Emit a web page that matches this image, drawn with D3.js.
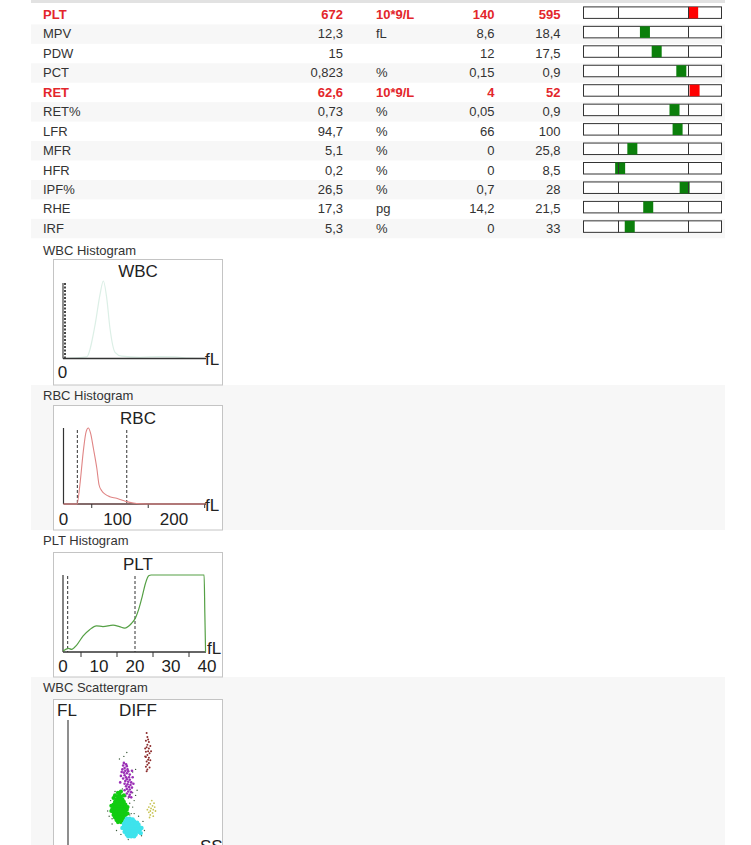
<!DOCTYPE html>
<html>
<head>
<meta charset="utf-8">
<script src="https://cdn.jsdelivr.net/npm/d3@7"></script>
<style>
html,body{margin:0;padding:0;background:#fff;overflow:hidden;}
svg{display:block;font-family:"Liberation Sans",Arial,sans-serif;}
</style>
</head>
<body>
<script>
// ---------- table data ----------
const params = ["PLT","MPV","PDW","PCT","RET","RET%","LFR","MFR","HFR","IPF%","RHE","IRF"];
const values = [672,12.3,15,0.823,62.6,0.73,94.7,5.1,0.2,26.5,17.3,5.3];
const units  = ["10*9/L","fL","","%","10*9/L","%","%","%","%","%","pg","%"];
const lows   = [140,8.6,12,0.15,4,0.05,66,0,0,0.7,14.2,0];
const highs  = [595,18.4,17.5,0.9,52,0.9,100,25.8,8.5,28,21.5,33];

// ---------- histogram data ----------
const wbcChannel = [0,16,22,25.5,27.9,30.3,32.6,36.2,40.9,54,68,78.7,89,100];
const wbcCount   = [0,2,43,82,100,78,39,8,3,1.5,2.5,2,0.5,0];

const rbcFl    = [0,24,29,35,40,44,48,53,59,63,68,73.5,82,94,103,112,123.5,135,160,200,250];
const rbcCount = [0,0,25,69,95,100,93,73,47,25,17,13,9.6,7.5,5.3,3.1,1.3,0.4,0,0,0];
const rbcThresholds = [24.5,112];
const rbcTickLabels = [0,100,200];
const rbcMinorTicks = [50,150,250];

const pltFl    = [0,1.5,2.4,3.8,5.6,7.4,9.3,11.1,13.9,15.7,17.1,19,20.1,21,22,22.9,23.8,24.5,39.2,39.4,39.6];
const pltCount = [1.3,4.7,3.4,9,21,29,34,33,35,33,31,37,44,55,72,89,99,100,100,50,0];
const pltThresholds = [1.3,20];
const pltTickLabels = [0,10,20,30,40];
const pltMinorTicks = [5,15,25,35];

// ---------- scattergram data (SS, FL) ----------
const neutro = [[35,43],[34,41],[36,41],[33,39],[35,39],[37,39],[32,37],[34,37],[36,37],[38,37],[31,35],[33,35],[35,35],[37,35],[39,35],
 [31,33],[33,33],[35,33],[37,33],[39,33],[30,31],[32,31],[34,31],[36,31],[38,31],[40,31],[31,29],[33,29],[35,29],[37,29],[39,29],
 [31,27],[33,27],[35,27],[37,27],[39,27],[32,25],[34,25],[36,25],[38,25],[33,23],[35,23],[37,23],[34,21.5],[36,21.5],
 [29.5,34],[40.5,28],[31,40],[38,42],[36,45],[29.5,30],[40.5,33],[34,44],[32,42]];
const lymph = [[40,24],[42,24],[44,23.5],[39,22],[41,22],[43,22],[45,22],[47,21],[38,20],[40,20],[42,20],[44,20],[46,20],[48,19.5],
 [38,18],[40,18],[42,18],[44,18],[46,18],[48,18],[39,16],[41,16],[43,16],[45,16],[47,16],[49,16],[38.5,14],[40,14],[42,14],[44,14],
 [46,14],[48,14],[40,12],[42,12],[44,12],[46,12],[41,10.5],[43,10.5],[45,10.5],[50,17],[37,17],[49.5,13]];
const mono = [[38,67],[39.5,66],[37.5,65],[40,64.5],[38.5,63],[40.5,62],[37,62],[39,61],[41,60.5],[38,59.5],[40,59],[42,58],[38.5,57.5],
 [39.5,56],[41.5,56],[37.5,55],[40,54.5],[42,54],[39,53],[41,52.5],[43,52],[38.5,51],[40.5,50.5],[42.5,50],[39.5,49],[41.5,48.5],
 [43.5,48],[40,47],[42,46.5],[38.5,46],[41,45],[43,44.5],[40,43.5],[42,42.5],[39,41.5],[41.5,41],[43,40.5],[36.5,60],[44,56],[35.5,52],
 [44.5,51],[36,57],[43.5,61]];
const baso = [[53.5,90],[54,87],[53,84],[55,83],[54,81],[53.5,79],[55,78],[54.5,76],[53,75.5],[55.5,74.5],[54,73],[53,71.5],[55,71],
 [54.5,69.5],[53.5,68],[55,67],[54,65.5],[53,64],[55.5,63.5],[54,62],[53.5,60.5],[56,69],[52.5,78],[56,80],[54.5,85],[52.5,72],[56.5,76]];
const eos = [[57,38],[58.5,36],[56,35.5],[57.5,34],[55,33],[59,33],[56.5,32],[58,31],[54,31],[56,30],[59.5,30],[55,29],[57.5,28.5],
 [56,27],[58,26],[55.5,25]];
const debris = [[27,30],[29,38],[42,36],[44,33],[45,28],[41,40],[46,42],[47,46],[44,60],[46,62],[38,72],[40,75],[35,70],[30,20],
 [33,15],[36,12],[50,11],[52,15],[51,22],[48,26],[43,28],[45,38],[37,47],[35,25],[32,45],[42,27],[30,24],[41,8],[28,26],[44,44]];

// ---------- drawing ----------
const W = 751, H = 845;
const svg = d3.select("body").append("svg").attr("width", W).attr("height", H);
const textCol = "#333", red = "#e3262b", gray = "#f7f7f7";

svg.append("rect").attr("x",31).attr("y",0).attr("width",694).attr("height",3).attr("fill","#e2e2e2");

// table
const rowY = d3.scaleLinear().domain([0,1]).range([4.9, 24.35]);
const rowH = 19.45;
const fmt = v => String(v).replace(".", ",");

params.forEach((p, i) => {
  const top = rowY(i);
  const flag = values[i] > highs[i] || values[i] < lows[i];
  const g = svg.append("g");
  if (i % 2 === 1) g.append("rect").attr("x",31).attr("y",top).attr("width",694).attr("height",rowH).attr("fill",gray);
  const base = top + 14;
  const st = t => t.attr("font-size",13).attr("fill", flag ? red : textCol).attr("font-weight", flag ? "bold" : "normal");
  st(g.append("text").attr("x",43).attr("y",base).text(p));
  st(g.append("text").attr("x",343).attr("y",base).attr("text-anchor","end").text(fmt(values[i])));
  st(g.append("text").attr("x",376).attr("y",base).text(units[i]));
  st(g.append("text").attr("x",494.5).attr("y",base).attr("text-anchor","end").text(fmt(lows[i])));
  st(g.append("text").attr("x",560.5).attr("y",base).attr("text-anchor","end").text(fmt(highs[i])));

  const span = highs[i] - lows[i], k = 1.2;
  const bx = d3.scaleLinear()
    .domain([lows[i] - k*span, lows[i], highs[i], highs[i] + k*span])
    .range([583.5, 618.5, 688.5, 721.5]).clamp(true);
  const by = top + 2, bh = 11.5;
  g.append("rect").attr("x",583.5).attr("y",by).attr("width",138).attr("height",bh)
    .attr("fill","#fff").attr("stroke","#333").attr("stroke-width",1);
  const cx = bx(values[i]);
  const mx = Math.max(584, Math.min(721 - 10, cx - 5));
  g.append("rect").attr("x",mx).attr("y",by).attr("width",10).attr("height",bh)
    .attr("fill", flag ? "#ff0000" : "#0b7f0b");
  [lows[i], highs[i]].forEach(v => {
    g.append("line").attr("x1",bx(v)).attr("x2",bx(v)).attr("y1",by).attr("y2",by+bh)
      .attr("stroke","#333").attr("stroke-width",1);
  });
});

// sections
const sections = [
  {title:"WBC Histogram", y:240, h:145, bg:"#fff"},
  {title:"RBC Histogram", y:385, h:145, bg:gray},
  {title:"PLT Histogram", y:530, h:147, bg:"#fff"},
  {title:"WBC Scattergram", y:677, h:168, bg:gray}
];
sections.forEach(s => {
  svg.append("rect").attr("x",31).attr("y",s.y).attr("width",694).attr("height",s.h).attr("fill",s.bg);
  svg.append("text").attr("x",43).attr("y",s.y+15).attr("font-size",13).attr("fill",textCol).text(s.title);
});

function box(y, h) {
  svg.append("rect").attr("x",53.5).attr("y",y).attr("width",169).attr("height",h)
    .attr("fill","#fff").attr("stroke","#c4c4c4").attr("stroke-width",1);
}
function bigText(x, y, t, anchor) {
  svg.append("text").attr("x",x).attr("y",y).attr("font-size",17).attr("fill","#222")
    .attr("text-anchor",anchor || "middle").text(t);
}

// WBC histogram
box(259.5, 125.5);
bigText(138, 277, "WBC");
{
  const x = d3.scaleLinear().domain([0,100]).range([64,205]);
  const y = d3.scaleLinear().domain([0,100]).range([358.5,281]);
  svg.append("line").attr("x1",63).attr("x2",63).attr("y1",283).attr("y2",358.5).attr("stroke","#444").attr("stroke-width",1.2);
  svg.append("line").attr("x1",65).attr("x2",65).attr("y1",283).attr("y2",358.5).attr("stroke","#333").attr("stroke-width",1.8).attr("stroke-dasharray","2,1.5");
  svg.append("path").datum(d3.zip(wbcChannel, wbcCount))
    .attr("d", d3.line().x(d=>x(d[0])).y(d=>y(d[1])).curve(d3.curveMonotoneX))
    .attr("fill","none").attr("stroke","#dcefe6").attr("stroke-width",1.2);
  svg.append("line").attr("x1",63).attr("x2",206).attr("y1",358.5).attr("y2",358.5).attr("stroke","#333").attr("stroke-width",1.3);
  bigText(205, 365, "fL", "start");
  bigText(62.5, 378, "0");
}

// RBC histogram
box(405.5, 124.5);
bigText(138, 424, "RBC");
{
  const x = d3.scaleLinear().domain([0,250]).range([63.5,204.7]);
  const y = d3.scaleLinear().domain([0,100]).range([504,428]);
  svg.append("line").attr("x1",63.5).attr("x2",63.5).attr("y1",428).attr("y2",504).attr("stroke","#333").attr("stroke-width",1.2);
  rbcThresholds.forEach(t => svg.append("line").attr("x1",x(t)).attr("x2",x(t)).attr("y1",430).attr("y2",504)
    .attr("stroke","#333").attr("stroke-width",1).attr("stroke-dasharray","3,2"));
  svg.append("line").attr("x1",63.5).attr("x2",206).attr("y1",504).attr("y2",504).attr("stroke","#5a3a3a").attr("stroke-width",1.4);
  rbcMinorTicks.forEach(t => svg.append("line").attr("x1",x(t)).attr("x2",x(t)).attr("y1",504).attr("y2",508).attr("stroke","#333"));
  svg.append("path").datum(d3.zip(rbcFl, rbcCount))
    .attr("d", d3.line().x(d=>x(d[0])).y(d=>y(d[1])).curve(d3.curveMonotoneX))
    .attr("fill","none").attr("stroke","#e08585").attr("stroke-width",1.1);
  rbcTickLabels.forEach(t => bigText(x(t) - (t ? 2.5 : 0), 525, String(t)));
  bigText(205, 511, "fL", "start");
}

// PLT histogram
box(552.5, 124.5);
bigText(138, 570, "PLT");
{
  const x = d3.scaleLinear().domain([0,40]).range([63,207]);
  const y = d3.scaleLinear().domain([0,100]).range([652,575]);
  svg.append("line").attr("x1",63).attr("x2",63).attr("y1",575).attr("y2",652).attr("stroke","#333").attr("stroke-width",1.2);
  pltThresholds.forEach(t => svg.append("line").attr("x1",x(t)).attr("x2",x(t)).attr("y1",576).attr("y2",652)
    .attr("stroke","#333").attr("stroke-width",1).attr("stroke-dasharray","3,2"));
  svg.append("line").attr("x1",63).attr("x2",206).attr("y1",652).attr("y2",652).attr("stroke","#333").attr("stroke-width",1.4);
  pltMinorTicks.forEach(t => svg.append("line").attr("x1",x(t)).attr("x2",x(t)).attr("y1",652).attr("y2",657).attr("stroke","#333"));
  svg.append("path").datum(d3.zip(pltFl, pltCount))
    .attr("d", d3.line().x(d=>x(d[0])).y(d=>y(d[1])).curve(d3.curveMonotoneX))
    .attr("fill","none").attr("stroke","#55a045").attr("stroke-width",1.2);
  pltTickLabels.forEach(t => bigText(x(t), 672, String(t)));
  bigText(207, 654, "fL", "start");
}

// WBC scattergram
box(699.5, 160);
bigText(57, 716, "FL", "start");
bigText(138, 716, "DIFF");
{
  const x = d3.scaleLinear().domain([0,100]).range([68,215]);
  const y = d3.scaleLinear().domain([0,100]).range([850,720]);
  svg.append("line").attr("x1",68).attr("x2",68).attr("y1",720).attr("y2",845).attr("stroke","#444").attr("stroke-width",1.2);
  const groups = [
    {pts:debris, col:"#3c5a3c", r:0.7},
    {pts:baso, col:"#8b2a2a", r:1.0},
    {pts:eos, col:"#c8c455", r:0.9},
    {pts:mono, col:"#9a2fb5", r:1.3},
    {pts:neutro, col:"#12cc12", r:2.1},
    {pts:lymph, col:"#3ee3ec", r:2.2}
  ];
  groups.forEach(gp => {
    svg.append("g").selectAll("circle").data(gp.pts).join("circle")
      .attr("cx", d => x(d[0])).attr("cy", d => y(d[1])).attr("r", gp.r).attr("fill", gp.col);
  });
  bigText(200, 852, "SS", "start");
}
</script>
</body>
</html>
